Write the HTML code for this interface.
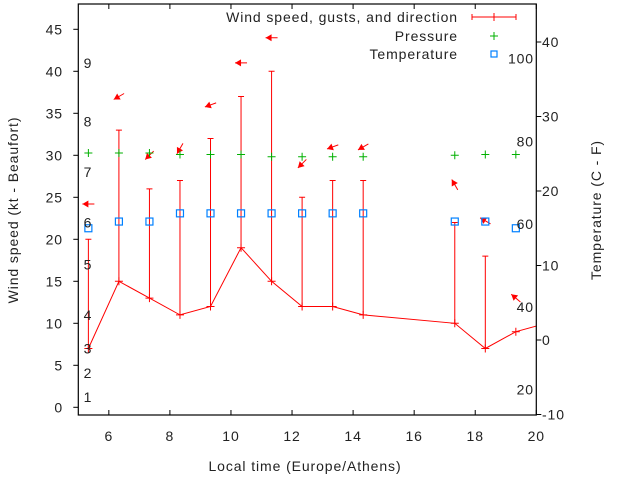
<!DOCTYPE html>
<html><head><meta charset="utf-8"><style>
body{margin:0;background:#fff}
svg{display:block;font-family:"Liberation Sans",sans-serif;letter-spacing:0.9px}
</style></head><body>
<svg id="c" width="640" height="480" xmlns="http://www.w3.org/2000/svg"></svg>
<script>
const times=[5.33,6.33,7.33,8.33,9.33,10.33,11.33,12.33,13.33,14.33,17.33,18.33,19.33,20.33];
const windKt=[7,15,13,11,12,19,15,12,12,11,10,7,9,10];
const gustKt=[20,33,26,27,32,37,40,25,27,27,22,18,null,null];
const pressure=[25.1,25.1,25.1,24.9,24.9,24.9,24.6,24.6,24.6,24.6,24.8,24.9,24.9];
const tempC=[15.0,15.9,15.9,17.0,17.0,17.0,17.0,17.0,17.0,17.0,15.9,15.9,15.0];
const arrowKt=[24.2,37,30,30.8,36,41,44,29,31,31,26.5,22.2,13];
const arrowDir=[180,210,225,240,200,180,180,225,200,210,120,150,140];
const xTicks=[6,8,10,12,14,16,18,20];
const yTicks=[0,5,10,15,20,25,30,35,40,45];
const y2Ticks=[-10,0,10,20,30,40];
const beaufort=[1,2,3,4,5,6,7,8,9];
const beaufortKt=[1.2,4.1,7,11,17,22,28,34,41];
const fahr=[20,40,60,80,100];

const L=78.3,R=536.3,T=4,B=415;
const X=v=>L+(v-5)/15*(R-L);
const Y=v=>407.3-v*8.4;
const Y2=v=>340-v*7.45;
const svg=document.getElementById('c');
const NS='http://www.w3.org/2000/svg';
function mk(t,a,p){const e=document.createElementNS(NS,t);for(const k in a)e.setAttribute(k,a[k]);(p||svg).appendChild(e);return e;}
function txt(x,y,s,anchor,name,extra){const e=mk('text',Object.assign({x:x,y:y,'font-size':14,fill:'#222','text-anchor':anchor||'middle'},extra||{}));e.textContent=s;


return e;}

const clip=mk('clipPath',{id:'pc'});mk('rect',{x:L,y:T,width:R-L,height:B-T},clip);
const g=mk('g',{'clip-path':'url(#pc)'});



beaufort.forEach((b,i)=>{txt(88,Y(beaufortKt[i])+5,String(b),'middle','beaufort-label');});
fahr.forEach(f=>{txt(534,Y2((f-32)*5/9)+5,String(f),'end','fahrenheit-label');});

let d='';times.forEach((t,i)=>{d+=(i?'L':'M')+X(t)+','+Y(windKt[i]);});
const wl=mk('path',{d:d,fill:'none',stroke:'#f00','stroke-width':1},g);


times.forEach((t,i)=>{
  const x=X(t),y=Y(windKt[i]);
  const m=mk('path',{d:`M${x-4},${y}H${x+4}M${x},${y-4}V${y+4}`,stroke:'#f00','stroke-width':1},g);
  
  
  if(gustKt[i]!=null){const gy=Y(gustKt[i]);
    const e=mk('path',{d:`M${x},${y}V${gy}M${x-3},${gy}H${x+3}`,stroke:'#f00','stroke-width':1},g);
    
    }
});
arrowKt.forEach((a,i)=>{
  const cx=X(times[i]),cy=Y(a),r=arrowDir[i]*Math.PI/180,dx=Math.cos(r),dy=-Math.sin(r);
  const hx=cx+dx*6,hy=cy+dy*6,tx=cx-dx*6,ty=cy-dy*6;
  const px=-dy,py=dx;
  const ar=mk('g',{},g);
  
  
  mk('line',{x1:tx,y1:ty,x2:hx,y2:hy,stroke:'#f00','stroke-width':1},ar);
  mk('polygon',{points:`${hx},${hy} ${hx-dx*6+px*3.5},${hy-dy*6+py*3.5} ${hx-dx*6-px*3.5},${hy-dy*6-py*3.5}`,fill:'#f00'},ar);
});
pressure.forEach((p,i)=>{const x=X(times[i]),y=Y2(p);
  const m=mk('path',{d:`M${x-4},${y}H${x+4}M${x},${y-4}V${y+4}`,stroke:'#00b000','stroke-width':1},g);
  
  });
tempC.forEach((c,i)=>{const x=X(times[i]),y=Y2(c);
  const m=mk('rect',{x:x-3.5,y:y-3.5,width:7,height:7,fill:'none',stroke:'#0080ff','stroke-width':1.2},g);
  
  });

const fr=mk('rect',{x:L,y:T,width:R-L,height:B-T,fill:'none',stroke:'#000','stroke-width':1.2});


xTicks.forEach(v=>{const x=X(v);mk('path',{d:`M${x},${B}v-5M${x},${T}v5`,stroke:'#000'});txt(x,441,String(v),'middle','x-tick-label');});
yTicks.forEach(v=>{const y=Y(v);mk('path',{d:`M${L},${y}h-5`,stroke:'#000'});txt(63,y+5,String(v),'end','y-tick-label');});
y2Ticks.forEach(v=>{const y=Y2(v);mk('path',{d:`M${R},${y}h5`,stroke:'#000'});txt(542,y+5,String(v),'start','y2-tick-label');});

txt(305,471,'Local time (Europe/Athens)','middle','x-axis-title');
txt(18,210,'Wind speed (kt - Beaufort)','middle','y-axis-title',{transform:'rotate(-90 18 210)'});
txt(601,210,'Temperature (C - F)','middle','y2-axis-title',{transform:'rotate(-90 601 210)'});

txt(458,22,'Wind speed, gusts, and direction','end','legend-wind');
txt(458,41,'Pressure','end','legend-pressure');
txt(458,59,'Temperature','end','legend-temperature');
const lg=mk('path',{d:'M472,17H516M472,14v6M516,14v6M494,13v8',stroke:'#f00'});


const lp=mk('path',{d:'M490,36h8M494,32v8',stroke:'#00b000'});


const lt=mk('rect',{x:491,y:51,width:6,height:6,fill:'none',stroke:'#0080ff','stroke-width':1.2});


</script>
</body></html>
